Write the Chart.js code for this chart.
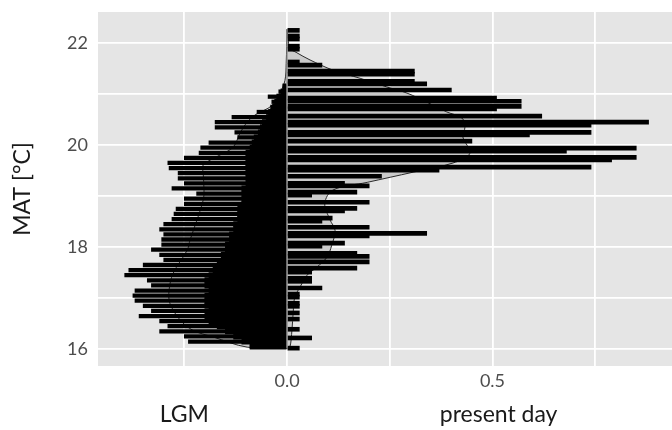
<!DOCTYPE html>
<html>
<head>
<meta charset="utf-8">
<script src="https://cdn.jsdelivr.net/npm/chart.js@4/dist/chart.umd.min.js"></script>
<style>
  html, body { margin: 0; padding: 0; background: #fff; }
  #wrap { width: 672px; height: 430px; position: relative; }
</style>
</head>
<body>
<div id="wrap"><canvas id="matChart"></canvas></div>
<script>
// LGM histogram, 0.1 degC bins (bin centres), plotted to the left of zero
const lgmMat = [16.05, 16.15, 16.25, 16.35, 16.45, 16.55, 16.65, 16.75, 16.85, 16.95,
  17.05, 17.15, 17.25, 17.35, 17.45, 17.55, 17.65, 17.75, 17.85, 17.95,
  18.05, 18.15, 18.25, 18.35, 18.45, 18.55, 18.65, 18.75, 18.85, 18.95,
  19.05, 19.15, 19.25, 19.35, 19.45, 19.55, 19.65, 19.75, 19.85, 19.95,
  20.05, 20.15, 20.25, 20.35, 20.45, 20.55, 20.65, 20.75, 20.85, 20.95,
  21.05, 21.15];
const lgmFreq = [0.09, 0.24, 0.25, 0.31, 0.29, 0.31, 0.36, 0.33, 0.35, 0.37,
  0.375, 0.37, 0.33, 0.34, 0.395, 0.385, 0.35, 0.30, 0.31, 0.33,
  0.305, 0.305, 0.30, 0.31, 0.30, 0.28, 0.275, 0.27, 0.25, 0.25,
  0.22, 0.28, 0.25, 0.265, 0.265, 0.287, 0.29, 0.25, 0.214, 0.21,
  0.19, 0.12, 0.127, 0.175, 0.175, 0.134, 0.073, 0.04, 0.037, 0.046,
  0.02, 0.01];
// overlapping inner (solid) part of the LGM bars
const lgmCore = [0.09, 0.11, 0.13, 0.15, 0.17, 0.19, 0.2, 0.19, 0.2, 0.2,
  0.2, 0.19, 0.2, 0.2, 0.19, 0.18, 0.17, 0.16, 0.16, 0.15,
  0.15, 0.14, 0.14, 0.13, 0.13, 0.12, 0.12, 0.12, 0.11, 0.11,
  0.11, 0.11, 0.1, 0.1, 0.1, 0.1, 0.1, 0.1, 0.1, 0.09,
  0.085, 0.08, 0.07, 0.065, 0.06, 0.05, 0.045, 0.035, 0.03, 0.025,
  0.015, 0.01];

// present day samples, plotted to the right of zero
const presentMat = [22.25, 22.14, 22.08, 21.94, 21.88, 21.63, 21.57, 21.45, 21.39, 21.25,
  21.20, 21.08, 20.92, 20.86, 20.76, 20.71, 20.57, 20.45, 20.39, 20.25,
  20.20, 20.08, 19.94, 19.88, 19.76, 19.71, 19.57, 19.51, 19.39, 19.25,
  19.20, 19.08, 19.02, 18.88, 18.76, 18.71, 18.57, 18.51, 18.39, 18.27,
  18.22, 18.08, 18.02, 17.88, 17.82, 17.71, 17.59, 17.51, 17.39, 17.33,
  17.20, 17.08, 17.02, 16.90, 16.84, 16.71, 16.59, 16.39, 16.22, 16.02];
const presentFreq = [0.03, 0.03, 0.03, 0.03, 0.03, 0.03, 0.085, 0.31, 0.31, 0.31,
  0.34, 0.40, 0.51, 0.57, 0.57, 0.51, 0.62, 0.88, 0.74, 0.74,
  0.59, 0.45, 0.85, 0.68, 0.85, 0.79, 0.74, 0.37, 0.23, 0.14,
  0.20, 0.17, 0.06, 0.20, 0.17, 0.14, 0.11, 0.085, 0.20, 0.34,
  0.20, 0.14, 0.085, 0.17, 0.20, 0.20, 0.17, 0.06, 0.06, 0.06,
  0.085, 0.03, 0.03, 0.03, 0.03, 0.03, 0.03, 0.03, 0.06, 0.03];

// kernel density outlines
const lgmDensMat = [16.02, 16.04, 16.24, 16.37, 16.57, 16.90, 17.16, 17.49, 17.94, 18.14,
  18.56, 18.92, 19.12, 19.45, 19.61, 19.82, 19.96, 20.24, 20.45, 20.59,
  20.78, 21.02, 21.27, 21.6, 22.27];
const lgmDens = [0, 0.097, 0.18, 0.229, 0.26, 0.285, 0.287, 0.277, 0.243, 0.236,
  0.218, 0.204, 0.202, 0.204, 0.204, 0.16, 0.131, 0.114, 0.097, 0.078,
  0.036, 0.017, 0.005, 0.002, 0];
const presentDensMat = [16.02, 16.04, 16.37, 16.71, 17.02, 17.22, 17.45, 17.61, 17.80, 18.04,
  18.33, 18.53, 18.86, 19.12, 19.27, 19.47, 19.65, 19.84, 20.16, 20.35,
  20.53, 20.65, 20.84, 21.02, 21.14, 21.31, 21.47, 21.67, 21.82, 21.90, 22.27];
const presentDens = [0, 0.007, 0.012, 0.015, 0.019, 0.032, 0.049, 0.073, 0.097, 0.109,
  0.117, 0.105, 0.092, 0.112, 0.195, 0.307, 0.404, 0.445, 0.428, 0.433,
  0.426, 0.389, 0.341, 0.292, 0.243, 0.178, 0.112, 0.056, 0.022, 0.007, 0];

// axes
const xRange = [-0.46, 0.937];
const yRange = [15.67, 22.61];
const xTickValues = [0, 0.5];
const xTickLabels = ['0.0', '0.5'];
const yTickValues = [16, 18, 20, 22];
const yTickLabels = ['16', '18', '20', '22'];
const groupTicks = [-0.25, 0.515];
const groupLabels = ['LGM', 'present day'];

const FONT = 'Lato, "Open Sans", sans-serif';

const toPoints = (mats, vals, sign) => mats.map((m, i) => ({ x: sign * vals[i], y: m }));

const panelBg = {
  id: 'panelBg',
  beforeDraw(chart) {
    const { ctx, chartArea: a } = chart;
    ctx.save();
    ctx.fillStyle = '#e5e5e5';
    ctx.fillRect(a.left, a.top, a.right - a.left, a.bottom - a.top);
    ctx.restore();
  },
};

const labelFor = (values, labels) => (v) => {
  const i = values.findIndex((t) => Math.abs(t - v) < 1e-6);
  return i >= 0 ? labels[i] : '';
};

// fixed axis box sizes, no extra room for overhanging tick labels
const fixBox = (w, h) => (s) => {
  if (w) s.width = w;
  if (h) s.height = h;
  s.paddingTop = 0;
  s.paddingBottom = 0;
  s.paddingLeft = 0;
  s.paddingRight = 0;
};

const densityStyle = {
  type: 'line',
  pointRadius: 0,
  borderColor: '#2b2b2b',
  borderWidth: 1,
  backgroundColor: '#cbcbcb',
  fill: 'shape',
  tension: 0.35,
};

const barStyle = {
  type: 'bar',
  backgroundColor: '#000',
  borderWidth: 0,
  grouped: false,
};

new Chart(document.getElementById('matChart'), {
  type: 'bar',
  data: {
    datasets: [
      { ...densityStyle, label: 'LGM density', data: toPoints(lgmDensMat, lgmDens, -1), order: 5 },
      { ...densityStyle, label: 'present day density', data: toPoints(presentDensMat, presentDens, 1), order: 4 },
      { ...barStyle, label: 'LGM', data: toPoints(lgmMat, lgmFreq, -1), barThickness: 3.6, order: 3 },
      { ...barStyle, label: 'LGM core', data: toPoints(lgmMat, lgmCore, -1), barThickness: 5.3, order: 2 },
      { ...barStyle, label: 'present day', data: toPoints(presentMat, presentFreq, 1), barThickness: 4, order: 1 },
      {
        type: 'line',
        label: 'zero',
        data: [
          { x: 0, y: lgmDensMat[0] },
          { x: 0, y: lgmDensMat[lgmDensMat.length - 1] },
        ],
        borderColor: '#8a8a8a',
        borderWidth: 1.2,
        pointRadius: 0,
        fill: false,
        order: 0,
      },
    ],
  },
  options: {
    indexAxis: 'y',
    responsive: true,
    maintainAspectRatio: false,
    animation: false,
    layout: { padding: { top: 12, left: 0, right: 0, bottom: 0 } },
    plugins: {
      legend: { display: false },
      tooltip: { enabled: false },
    },
    scales: {
      x: {
        type: 'linear',
        position: 'bottom',
        weight: 0,
        min: xRange[0],
        max: xRange[1],
        ticks: {
          stepSize: 0.25,
          includeBounds: false,
          autoSkip: false,
          maxRotation: 0,
          padding: 4,
          color: '#4d4d4d',
          font: { family: FONT, size: 18 },
          callback: labelFor(xTickValues, xTickLabels),
        },
        grid: { color: '#ffffff', lineWidth: 1.8, drawTicks: false },
        border: { display: false },
        afterFit: fixBox(0, 28),
      },
      x2: {
        type: 'linear',
        position: 'bottom',
        weight: 1,
        min: xRange[0],
        max: xRange[1],
        afterBuildTicks: (s) => { s.ticks = groupTicks.map((v) => ({ value: v })); },
        ticks: {
          autoSkip: false,
          maxRotation: 0,
          padding: 7,
          color: '#1a1a1a',
          font: { family: FONT, size: 23 },
          callback: labelFor(groupTicks, groupLabels),
        },
        grid: { display: false, drawTicks: false },
        border: { display: false },
        afterFit: fixBox(0, 36),
      },
      y: {
        type: 'linear',
        min: yRange[0],
        max: yRange[1],
        offset: false,
        ticks: {
          stepSize: 1,
          includeBounds: false,
          autoSkip: false,
          padding: 10,
          color: '#4d4d4d',
          font: { family: FONT, size: 18 },
          callback: labelFor(yTickValues, yTickLabels),
        },
        grid: { color: '#ffffff', lineWidth: 1.8, drawTicks: false, offset: false },
        border: { display: false },
        title: {
          display: true,
          text: 'MAT [°C]',
          color: '#1a1a1a',
          font: { family: FONT, size: 23 },
          padding: { top: 9, bottom: 0 },
        },
        afterFit: fixBox(98, 0),
      },
    },
  },
  plugins: [panelBg],
});
</script>
</body>
</html>
